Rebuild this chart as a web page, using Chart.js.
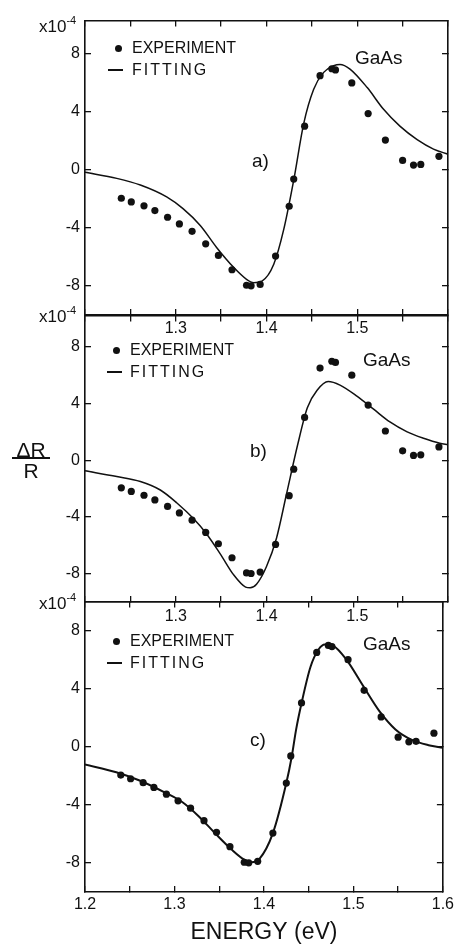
<!DOCTYPE html>
<html>
<head>
<meta charset="utf-8">
<script src="https://cdn.jsdelivr.net/npm/chart.js@4.4.1/dist/chart.umd.min.js"></script>
<style>
    body { margin: 0; background: #fff; width: 463px; height: 946px; position: relative; overflow: hidden;
           font-family: "Liberation Sans", Arial, sans-serif; color: #111; }
    canvas { position: absolute; left: 0; }
    .t { position: absolute; white-space: nowrap; line-height: 1; transform: translateY(-50%); }
    .leg { font-size: 16px; }
    .fit { letter-spacing: 2px; }
    .big { font-size: 19px; }
    .sci { font-size: 17px; }
    .sci sup { font-size: 11px; position: relative; top: -2px; }
    .dot { position: absolute; width: 7px; height: 7px; border-radius: 50%; background: #111; }
    .dash { position: absolute; width: 15px; height: 2px; background: #111; }
</style>
</head>
<body>
<canvas id="pa" width="463" height="345" style="top:0px"></canvas>
<canvas id="pb" width="463" height="337" style="top:295px"></canvas>
<canvas id="pc" width="463" height="365" style="top:581px"></canvas>

<!-- panel a -->
<div class="t sci" style="left:39px;top:26px">x10<sup>-4</sup></div>
<div class="dot" style="left:115px;top:45px"></div>
<div class="t leg" style="left:132px;top:48px">EXPERIMENT</div>
<div class="dash" style="left:108px;top:69px"></div>
<div class="t leg fit" style="left:132px;top:70px">FITTING</div>
<div class="t big" style="left:355px;top:57px">GaAs</div>
<div class="t big" style="left:252px;top:160px">a)</div>

<!-- panel b -->
<div class="t sci" style="left:39px;top:316px">x10<sup>-4</sup></div>
<div class="dot" style="left:113px;top:347px"></div>
<div class="t leg" style="left:130px;top:350px">EXPERIMENT</div>
<div class="dash" style="left:107px;top:371px"></div>
<div class="t leg fit" style="left:130px;top:372px">FITTING</div>
<div class="t big" style="left:363px;top:359px">GaAs</div>
<div class="t big" style="left:250px;top:450px">b)</div>

<!-- panel c -->
<div class="t sci" style="left:39px;top:603px">x10<sup>-4</sup></div>
<div class="dot" style="left:113px;top:638px"></div>
<div class="t leg" style="left:130px;top:641px">EXPERIMENT</div>
<div class="dash" style="left:107px;top:662px"></div>
<div class="t leg fit" style="left:130px;top:663px">FITTING</div>
<div class="t big" style="left:363px;top:643px">GaAs</div>
<div class="t big" style="left:250px;top:739px">c)</div>

<!-- axis label dR/R -->
<div class="t" style="left:10px;top:449px;width:42px;text-align:center;font-size:21px">ΔR</div>
<div style="position:absolute;left:12px;top:457px;width:38px;height:2px;background:#111"></div>
<div class="t" style="left:10px;top:470px;width:42px;text-align:center;font-size:21px">R</div>

<script>
// Points mesurés (mêmes dans les trois panneaux)
const expEnergy = [1.240, 1.251, 1.265, 1.277, 1.291, 1.304, 1.318, 1.333, 1.347, 1.362, 1.378, 1.383, 1.393,
    1.410, 1.425, 1.430, 1.442, 1.459, 1.472, 1.476, 1.494, 1.512, 1.531, 1.550, 1.562, 1.570, 1.590];
const expValue = [-1.95, -2.2, -2.47, -2.8, -3.26, -3.72, -4.23, -5.09, -5.89, -6.88, -7.95, -7.99, -7.89,
    -5.94, -2.5, -0.63, 3.02, 6.5, 6.98, 6.9, 6.0, 3.89, 2.06, 0.66, 0.34, 0.38, 0.94];

// Courbe de fit, panneau a)
const fitAEnergy = [1.200, 1.235, 1.261, 1.290, 1.308, 1.327, 1.345, 1.364, 1.378, 1.386, 1.395, 1.408, 1.419,
    1.430, 1.441, 1.452, 1.463, 1.474, 1.481, 1.492, 1.511, 1.529, 1.547, 1.566, 1.584, 1.600];
const fitAValue = [-0.16, -0.58, -1.04, -1.86, -2.67, -3.83, -5.34, -6.73, -7.54, -7.77, -7.66, -6.5, -4.1,
    -0.7, 3.2, 5.57, 6.73, 7.19, 7.28, 6.96, 5.68, 4.18, 3.02, 2.09, 1.44, 1.09];

// Courbe de fit, panneau b)
const fitBEnergy = [1.200, 1.235, 1.261, 1.283, 1.301, 1.320, 1.334, 1.349, 1.364, 1.377, 1.382, 1.389, 1.400,
    1.411, 1.422, 1.434, 1.445, 1.456, 1.468, 1.481, 1.500, 1.518, 1.536, 1.555, 1.573, 1.591, 1.600];
const fitBValue = [-0.75, -1.15, -1.5, -2.1, -3.0, -4.15, -5.2, -6.6, -8.1, -8.95, -9.0, -8.75, -7.5,
    -5.5, -2.4, 1.0, 3.7, 4.95, 5.55, 5.3, 4.5, 3.6, 2.7, 2.0, 1.55, 1.2, 1.1];

// Courbe de fit, panneau c)
const fitCEnergy = [1.200, 1.235, 1.261, 1.290, 1.309, 1.327, 1.345, 1.364, 1.378, 1.386, 1.395, 1.410, 1.425,
    1.431, 1.436, 1.442, 1.452, 1.461, 1.468, 1.478, 1.492, 1.511, 1.529, 1.547, 1.566, 1.584, 1.600];
const fitCValue = [-1.22, -1.75, -2.32, -3.17, -3.82, -4.78, -5.93, -7.08, -7.77, -7.95, -7.72, -5.95, -2.5,
    -0.7, 1.2, 3.0, 5.5, 6.7, 7.05, 6.94, 6.02, 4.18, 2.46, 1.2, 0.46, 0.11, -0.07];

// Graduations
const xTicks = [1.2, 1.25, 1.3, 1.35, 1.4, 1.45, 1.5, 1.55, 1.6];
const xLabelsInner = ['1.3', '1.4', '1.5'];
const xLabelsBottom = ['1.2', '1.3', '1.4', '1.5', '1.6'];
const yTicks = [-8, -4, 0, 4, 8];

const INK = '#111';
const FONT = '"Liberation Sans", Arial, sans-serif';

function toPoints(xs, ys) {
    return xs.map((x, i) => ({ x: x, y: ys[i] }));
}

// Crée un panneau (a, b ou c)
function createPanel(canvasId, fitE, fitV, opts) {
    const setX = s => { s.ticks = xTicks.map(v => ({ value: v })); };
    const setY = s => { s.ticks = yTicks.map(v => ({ value: v })); };
    const border = { display: true, color: INK, width: 1.6 };
    const grid = { drawOnChartArea: false, color: INK, lineWidth: 1.3, tickLength: -6 };

    return new Chart(document.getElementById(canvasId), {
        type: 'scatter',
        data: {
            datasets: [{
                label: 'EXPERIMENT',
                data: toPoints(expEnergy, expValue),
                pointRadius: 3.6,
                pointBackgroundColor: INK,
                pointBorderWidth: 0,
                showLine: false,
            }, {
                label: 'FITTING',
                data: toPoints(fitE, fitV),
                showLine: true,
                pointRadius: 0,
                borderColor: INK,
                borderWidth: opts.lineWidth,
                cubicInterpolationMode: 'monotone',
            }],
        },
        options: {
            responsive: false,
            animation: false,
            events: [],
            layout: { padding: { top: 20, right: 15, left: 0, bottom: 0 } },
            plugins: { legend: { display: false }, tooltip: { enabled: false } },
            scales: {
                x: {
                    type: 'linear', position: 'bottom', min: 1.2, max: 1.6,
                    afterBuildTicks: setX,
                    afterFit: s => { s.height = opts.axisHeight; },
                    border: border, grid: grid,
                    ticks: {
                        autoSkip: false, maxRotation: 0, padding: opts.tickPad, color: INK,
                        font: { family: FONT, size: 16 },
                        callback: v => {
                            const s = v.toFixed(1);
                            return Math.abs(v * 10 - Math.round(v * 10)) < 1e-6 && opts.xLabels.includes(s) ? s : '';
                        },
                    },
                    title: {
                        display: !!opts.title, text: opts.title || '', color: INK, padding: 0,
                        font: { family: FONT, size: 23 },
                    },
                },
                xt: {
                    type: 'linear', position: 'top', min: 1.2, max: 1.6,
                    afterBuildTicks: setX,
                    afterFit: s => { s.height = 0; },
                    border: border, grid: grid,
                    ticks: { display: false },
                },
                y: {
                    type: 'linear', position: 'left', min: -10, max: opts.yMax,
                    afterBuildTicks: setY,
                    afterFit: s => { s.width = 85; },
                    border: border, grid: grid,
                    ticks: { padding: 11, color: INK, font: { family: FONT, size: 16 } },
                },
                yr: {
                    type: 'linear', position: 'right', min: -10, max: opts.yMax,
                    afterBuildTicks: setY,
                    afterFit: s => { s.width = 0; },
                    border: border, grid: grid,
                    ticks: { display: false },
                },
            },
        },
    });
}

createPanel('pa', fitAEnergy, fitAValue, { yMax: 10.3, axisHeight: 30, tickPad: 10, xLabels: xLabelsInner, lineWidth: 1.5 });
createPanel('pb', fitBEnergy, fitBValue, { yMax: 10.2, axisHeight: 30, tickPad: 11, xLabels: xLabelsInner, lineWidth: 1.5 });
createPanel('pc', fitCEnergy, fitCValue, { yMax: 10, axisHeight: 54, tickPad: 9, xLabels: xLabelsBottom, lineWidth: 2, title: 'ENERGY (eV)' });
</script>
</body>
</html>
